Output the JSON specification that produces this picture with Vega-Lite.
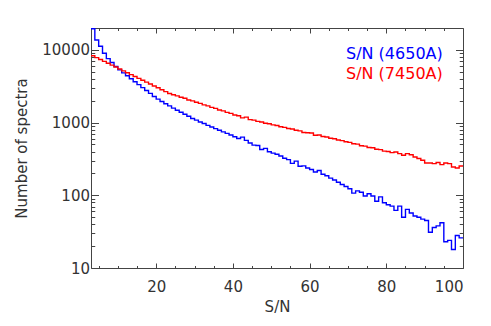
{
  "$schema": "https://vega.github.io/schema/vega-lite/v6.json",
  "width": 372,
  "height": 240,
  "autosize": {"type": "none"},
  "padding": {"left": 91, "top": 28, "right": 28, "bottom": 58},
  "background": "white",
  "config": {
    "view": {"stroke": "#444", "strokeWidth": 1},
    "axis": {
      "domain": false, "grid": false, "tickColor": "#444", "tickWidth": 1,
      "labelColor": "#333", "titleColor": "#333",
      "labelFont": "DejaVu Sans", "titleFont": "DejaVu Sans",
      "labelFontSize": 15, "titleFontSize": 15, "titleFontWeight": "normal"
    }
  },
  "data": {"values": [
    {"sn":3,"b4650":19500,"r7450":8320},{"sn":4,"b4650":13700,"r7450":7830},{"sn":5,"b4650":11200,"r7450":7380},
    {"sn":6,"b4650":8980,"r7450":6950},{"sn":7,"b4650":7590,"r7450":6550},{"sn":8,"b4650":6700,"r7450":6170},
    {"sn":9,"b4650":5900,"r7450":5810},{"sn":10,"b4650":5310,"r7450":5470},{"sn":11,"b4650":4830,"r7450":5150},
    {"sn":12,"b4650":4400,"r7450":4850},{"sn":13,"b4650":4010,"r7450":4570},{"sn":14,"b4650":3650,"r7450":4310},
    {"sn":15,"b4650":3330,"r7450":4060},{"sn":16,"b4650":3030,"r7450":3820},{"sn":17,"b4650":2760,"r7450":3600},
    {"sn":18,"b4650":2520,"r7450":3390},{"sn":19,"b4650":2290,"r7450":3190},{"sn":20,"b4650":2100,"r7450":3010},
    {"sn":21,"b4650":1950,"r7450":2830},{"sn":22,"b4650":1820,"r7450":2670},{"sn":23,"b4650":1700,"r7450":2510},
    {"sn":24,"b4650":1580,"r7450":2415},{"sn":25,"b4650":1480,"r7450":2330},{"sn":26,"b4650":1390,"r7450":2230},
    {"sn":27,"b4650":1300,"r7450":2160},{"sn":28,"b4650":1220,"r7450":2050},{"sn":29,"b4650":1140,"r7450":1990},
    {"sn":30,"b4650":1080,"r7450":1900},{"sn":31,"b4650":1020,"r7450":1840},{"sn":32,"b4650":970,"r7450":1750},
    {"sn":33,"b4650":915,"r7450":1700},{"sn":34,"b4650":870,"r7450":1620},{"sn":35,"b4650":825,"r7450":1570},
    {"sn":36,"b4650":785,"r7450":1490},{"sn":37,"b4650":745,"r7450":1450},{"sn":38,"b4650":710,"r7450":1380},
    {"sn":39,"b4650":675,"r7450":1340},{"sn":40,"b4650":640,"r7450":1270},{"sn":41,"b4650":603,"r7450":1240},
    {"sn":42,"b4650":631,"r7450":1160},{"sn":43,"b4650":569,"r7450":1190},{"sn":44,"b4650":525,"r7450":1100},
    {"sn":45,"b4650":490,"r7450":1080},{"sn":46,"b4650":484,"r7450":1040},{"sn":47,"b4650":427,"r7450":1020},
    {"sn":48,"b4650":442,"r7450":980},{"sn":49,"b4650":398,"r7450":965},{"sn":50,"b4650":380,"r7450":930},
    {"sn":51,"b4650":367,"r7450":910},{"sn":52,"b4650":347,"r7450":875},{"sn":53,"b4650":324,"r7450":860},
    {"sn":54,"b4650":309,"r7450":830},{"sn":55,"b4650":275,"r7450":815},{"sn":56,"b4650":295,"r7450":785},
    {"sn":57,"b4650":251,"r7450":770},{"sn":58,"b4650":254,"r7450":730},{"sn":59,"b4650":237,"r7450":725},
    {"sn":60,"b4650":226,"r7450":720},{"sn":61,"b4650":209,"r7450":670},{"sn":62,"b4650":219,"r7450":675},
    {"sn":63,"b4650":195,"r7450":645},{"sn":64,"b4650":186,"r7450":635},{"sn":65,"b4650":172,"r7450":610},
    {"sn":66,"b4650":162,"r7450":600},{"sn":67,"b4650":151,"r7450":575},{"sn":68,"b4650":141,"r7450":565},
    {"sn":69,"b4650":132,"r7450":545},{"sn":70,"b4650":123,"r7450":535},{"sn":71,"b4650":107,"r7450":512},
    {"sn":72,"b4650":115,"r7450":505},{"sn":73,"b4650":110,"r7450":480},{"sn":74,"b4650":98,"r7450":475},
    {"sn":75,"b4650":105,"r7450":455},{"sn":76,"b4650":98,"r7450":450},{"sn":77,"b4650":83,"r7450":430},
    {"sn":78,"b4650":95,"r7450":425},{"sn":79,"b4650":79,"r7450":405},{"sn":80,"b4650":74,"r7450":400},
    {"sn":81,"b4650":71,"r7450":386},{"sn":82,"b4650":62,"r7450":394},{"sn":83,"b4650":71,"r7450":374},
    {"sn":84,"b4650":50,"r7450":355},{"sn":85,"b4650":64,"r7450":374},{"sn":86,"b4650":57,"r7450":362},
    {"sn":87,"b4650":52,"r7450":336},{"sn":88,"b4650":50,"r7450":320},{"sn":89,"b4650":47,"r7450":303},
    {"sn":90,"b4650":45,"r7450":278},{"sn":91,"b4650":31,"r7450":278},{"sn":92,"b4650":36,"r7450":273},
    {"sn":93,"b4650":38,"r7450":282},{"sn":94,"b4650":42,"r7450":264},{"sn":95,"b4650":23,"r7450":278},
    {"sn":96,"b4650":24,"r7450":273},{"sn":97,"b4650":18,"r7450":245},{"sn":98,"b4650":28,"r7450":237},
    {"sn":99,"b4650":26,"r7450":253},{"sn":100,"b4650":26,"r7450":253}
  ]},
  "transform": [{"fold": ["b4650", "r7450"], "as": ["series", "count"]}],
  "layer": [
    {
      "mark": {"type": "line", "interpolate": "step-after", "strokeWidth": 1.4, "clip": true},
      "encoding": {
        "x": {"field": "sn", "type": "quantitative",
              "scale": {"domain": [3, 100], "nice": false, "zero": false},
              "axis": {"orient": "bottom", "values": [20, 40, 60, 80, 100], "tickSize": -5, "labelPadding": 16, "title": "S/N", "titlePadding": 5}},
        "y": {"field": "count", "type": "quantitative",
              "scale": {"type": "log", "domain": [10, 20000], "nice": false},
              "axis": {"orient": "left", "values": [10, 100, 1000, 10000], "tickSize": -7.5, "labelPadding": 9, "format": "d", "title": "Number of spectra", "titlePadding": 12}},
        "color": {"field": "series", "type": "nominal",
                  "scale": {"domain": ["b4650", "r7450"], "range": ["#0000ff", "#ff0000"]},
                  "legend": {"orient": "none", "legendX": 239, "legendY": 18, "title": null, "padding": 0,
                             "labelExpr": "datum.label == 'b4650' ? 'S/N (4650A)' : 'S/N (7450A)'",
                             "labelColor": {"expr": "datum.value == 'b4650' ? '#0000ff' : '#ff0000'"},
                             "labelFont": "DejaVu Sans", "labelFontSize": 16, "labelLimit": 300,
                             "symbolSize": 0, "symbolOpacity": 0, "symbolStrokeWidth": 0, "labelOffset": 0, "rowPadding": 4}}
      }
    },
    {
      "mark": {"type": "line", "strokeOpacity": 0},
      "encoding": {
        "detail": {"field": "series"},
        "x": {"field": "sn", "type": "quantitative",
              "scale": {"domain": [3, 100], "nice": false, "zero": false},
              "axis": {"orient": "bottom", "values": [5, 10, 15, 25, 30, 35, 45, 50, 55, 65, 70, 75, 85, 90, 95], "tickSize": -2.5, "labels": false, "title": null}},
        "y": {"field": "count", "type": "quantitative",
              "scale": {"type": "log", "domain": [10, 20000], "nice": false},
              "axis": {"orient": "left", "values": [20, 30, 40, 50, 60, 70, 80, 90, 200, 300, 400, 500, 600, 700, 800, 900, 2000, 3000, 4000, 5000, 6000, 7000, 8000, 9000], "tickSize": -3.75, "labels": false, "title": null}}
      }
    },
    {
      "mark": {"type": "line", "strokeOpacity": 0},
      "encoding": {
        "detail": {"field": "series"},
        "x": {"field": "sn", "type": "quantitative",
              "scale": {"domain": [3, 100], "nice": false, "zero": false},
              "axis": {"orient": "top", "values": [20, 40, 60, 80, 100], "tickSize": -5, "labels": false, "title": null}},
        "y": {"field": "count", "type": "quantitative",
              "scale": {"type": "log", "domain": [10, 20000], "nice": false},
              "axis": {"orient": "right", "values": [10, 100, 1000, 10000], "tickSize": -7.5, "labels": false, "title": null}}
      }
    },
    {
      "mark": {"type": "line", "strokeOpacity": 0},
      "encoding": {
        "detail": {"field": "series"},
        "x": {"field": "sn", "type": "quantitative",
              "scale": {"domain": [3, 100], "nice": false, "zero": false},
              "axis": {"orient": "top", "values": [5, 10, 15, 25, 30, 35, 45, 50, 55, 65, 70, 75, 85, 90, 95], "tickSize": -2.5, "labels": false, "title": null}},
        "y": {"field": "count", "type": "quantitative",
              "scale": {"type": "log", "domain": [10, 20000], "nice": false},
              "axis": {"orient": "right", "values": [20, 30, 40, 50, 60, 70, 80, 90, 200, 300, 400, 500, 600, 700, 800, 900, 2000, 3000, 4000, 5000, 6000, 7000, 8000, 9000], "tickSize": -3.75, "labels": false, "title": null}}
      }
    }
  ],
  "resolve": {"axis": {"x": "independent", "y": "independent"}}
}
